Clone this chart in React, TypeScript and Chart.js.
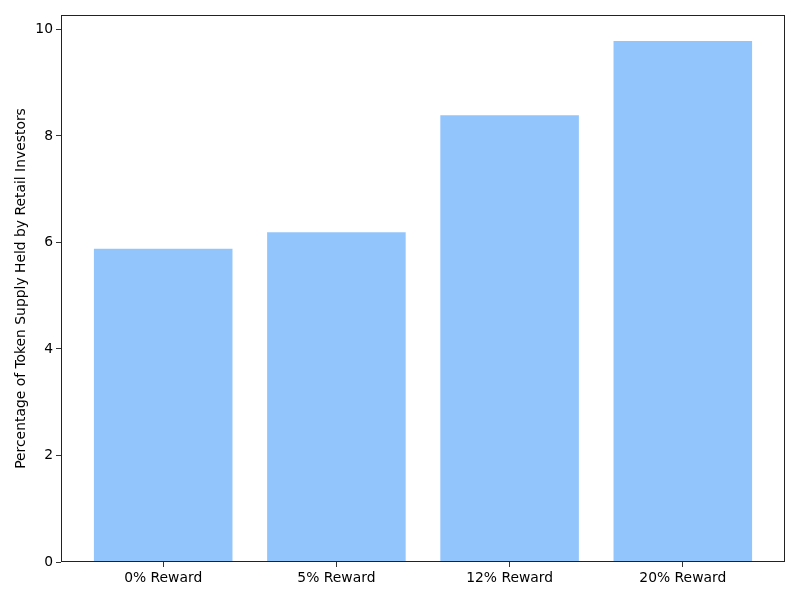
import React, { useEffect, useRef } from "react";
import { Chart, registerables } from "chart.js";

Chart.register(...registerables);

const categories = ["0% Reward", "5% Reward", "12% Reward", "20% Reward"];
const values = [5.88, 6.19, 8.39, 9.78];
const yTicks = [0, 2, 4, 6, 8, 10];
const yTitle = "Percentage of Token Supply Held by Retail Investors";

const FONT = "'DejaVu Sans', sans-serif";
const FS = 13.89;

const frame = {
  id: "frame",
  afterDraw(chart: any) {
    const { ctx, chartArea } = chart;
    ctx.save();
    ctx.strokeStyle = "#222";
    ctx.lineWidth = 1;
    const l = Math.round(chartArea.left) + 0.5;
    const t = Math.round(chartArea.top) + 0.5;
    const r = Math.round(chartArea.right) - 0.5;
    const b = Math.round(chartArea.bottom) - 0.5;
    ctx.strokeRect(l, t, r - l, b - t);
    ctx.restore();
  },
};

export default function App() {
  const ref = useRef<HTMLCanvasElement>(null);
  useEffect(() => {
    document.body.style.margin = "0";
    const chart = new Chart(ref.current!, {
      type: "bar",
      data: {
        datasets: [
          {
            data: values.map((v, i) => ({ x: i, y: v })),
            backgroundColor: "#93C5FD",
            borderWidth: 0,
            categoryPercentage: 1,
            barPercentage: 0.8,
          },
        ],
      },
      options: {
        animation: false,
        responsive: false,
        layout: { padding: { top: 15, right: 15, left: 0, bottom: 0 } },
        plugins: { legend: { display: false }, tooltip: { enabled: false } },
        scales: {
          x: {
            type: "linear",
            min: -0.59,
            max: 3.59,
            offset: false,
            afterFit: (s: any) => {
              s.height = 38;
            },
            afterBuildTicks: (s: any) => {
              s.ticks = categories.map((_, i) => ({ value: i }));
            },
            grid: {
              offset: false,
              drawOnChartArea: false,
              drawTicks: true,
              tickLength: 5,
              color: "#000",
              lineWidth: 0.8,
            },
            border: { display: false },
            ticks: {
              color: "#000",
              font: { family: FONT, size: FS },
              padding: 3,
              maxRotation: 0,
              autoSkip: false,
              callback: (v: any) => categories[v] ?? "",
            },
          },
          y: {
            min: 0,
            max: 10.27,
            afterFit: (s: any) => {
              s.width = 61;
            },
            afterBuildTicks: (s: any) => {
              s.ticks = yTicks.map((v) => ({ value: v }));
            },
            grid: {
              drawOnChartArea: false,
              drawTicks: true,
              tickLength: 5,
              color: "#000",
              lineWidth: 0.8,
            },
            border: { display: false },
            ticks: {
              color: "#000",
              font: { family: FONT, size: FS },
              padding: 3,
              callback: (v: any) => String(v),
            },
            title: {
              display: true,
              text: yTitle,
              color: "#000",
              font: { family: FONT, size: FS },
              padding: { top: 13, bottom: 0 },
            },
          },
        },
      },
      plugins: [frame],
    });
    return () => chart.destroy();
  }, []);
  return (
    <div style={{ width: 800, height: 600 }}>
      <canvas ref={ref} width={800} height={600} />
    </div>
  );
}
